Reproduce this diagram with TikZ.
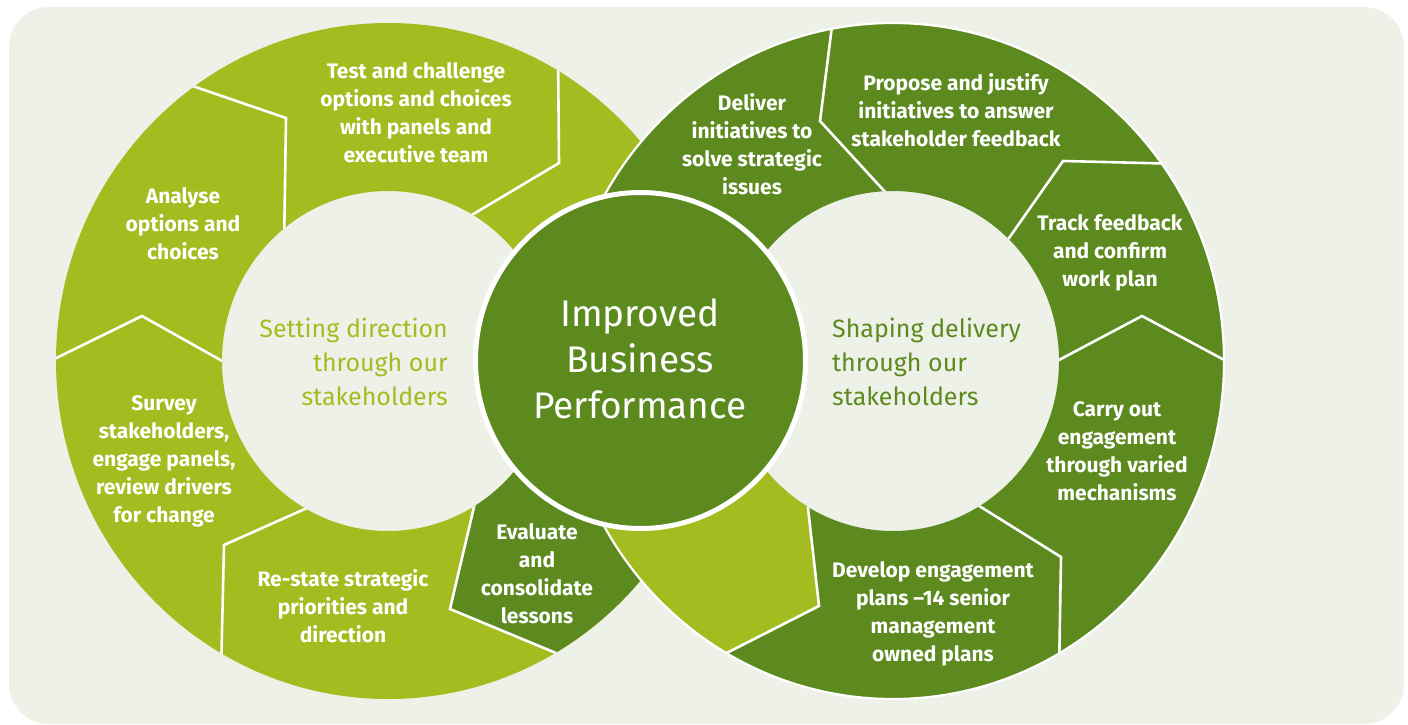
\documentclass[tikz,border=0pt]{standalone}
\usepackage{fontspec}
\setmainfont{Fira Sans}
\newfontfamily\labfont{Fira Sans}
\definecolor{bgc}{HTML}{EEF1E8}
\definecolor{lightg}{HTML}{A4BC1F}
\definecolor{darkg}{HTML}{5C8A1F}
\tikzset{
  sep/.style={draw=white, line width=2.6pt, line join=miter},
  lab/.style={text=white, align=center, font=\labfont\bfseries\fontsize{21}{28}\selectfont, inner sep=0pt},
  inner/.style={align=center, font=\fontsize{25}{34}\selectfont, inner sep=0pt},
  big/.style={text=white, align=center, font=\fontsize{37}{46}\selectfont, inner sep=0pt}
}
\begin{document}
\begin{tikzpicture}[x=1pt,y=-1pt]
\useasboundingbox (0,0) rectangle (1408,725);
\fill[white] (0,0) rectangle (1408,725);
\fill[bgc, rounded corners=40pt] (9,7) rectangle (1404,724);
% ---------- left ring ----------
\fill[lightg, even odd rule] (388,361) ellipse [x radius=332pt, y radius=338pt]
  (388,361) ellipse [x radius=166pt, y radius=170pt];
\begin{scope}[even odd rule]
  \clip (388,361) ellipse [x radius=332pt, y radius=338pt]
    (388,361) ellipse [x radius=166pt, y radius=170pt];
  \fill[darkg] (480,483) -- (450,609) -- (557,653) -- (600,671) -- (800,671) -- (800,361) -- (480,361) -- cycle;
  \draw[sep] (175,80) -- (286,118) -- (284,250);
  \draw[sep] (558,50) -- (559,163) -- (455,225);
  \draw[sep] (40,366) -- (142,316) -- (240,371);
  \draw[sep] (325,500) -- (224,545) -- (221,675);
  \draw[sep] (478,490) -- (450,609) -- (580,663);
\end{scope}
% ---------- right ring ----------
\fill[darkg, even odd rule] (893,361) ellipse [x radius=331pt, y radius=338pt]
  (893,361) ellipse [x radius=166pt, y radius=170pt];
\begin{scope}[even odd rule]
  \clip (893,361) ellipse [x radius=331pt, y radius=338pt]
    (893,361) ellipse [x radius=166pt, y radius=170pt];
  \fill[lightg] (805,480) -- (819,606) -- (726,653) -- (680,676) -- (500,676) -- (500,361) -- (805,361) -- cycle;
  \draw[sep] (834,10) -- (820,121) -- (898,206);
  \draw[sep] (1185,164) -- (1063,161) -- (995,258);
  \draw[sep] (1040,370) -- (1142,316) -- (1243,370);
  \draw[sep] (960,494) -- (1061,557) -- (1059,675);
  \draw[sep] (806,490) -- (819,606) -- (705,664);
\end{scope}
\draw[white, line width=2.2pt] (893,361) ellipse [x radius=331pt, y radius=338pt];
% ---------- centre ----------
\fill[darkg, draw=white, line width=5pt] (640.5,360.5) ellipse [x radius=165pt, y radius=168pt];
% ---------- texts ----------
\node[lab] (test) at (416,113) {Test and challenge\\options and choices\\with panels and\\executive team};
\node[lab] (analyse) at (183,224) {Analyse\\options and\\choices};
\node[lab] (survey) at (164,461) {Survey\\stakeholders,\\engage panels,\\review drivers\\for change};
\node[lab] (restate) at (343,606) {Re-state strategic\\priorities and\\direction};
\node[lab] (evaluate) at (537,574) {Evaluate\\and\\consolidate\\lessons};
\node[inner, text=lightg, align=right, anchor=east] (setting) at (448,362) {Setting direction\\through our\\stakeholders};
\node[lab] (deliver) at (752,144) {Deliver\\initiatives to\\solve strategic\\issues};
\node[lab] (propose) at (956,110) {Propose and justify\\initiatives to answer\\stakeholder feedback};
\node[lab] (track) at (1110,253) {Track feedback\\and confirm\\work plan};
\node[lab] (carry) at (1117,451) {Carry out\\engagement\\through varied\\mechanisms};
\node[lab] (develop) at (933,614) {Develop engagement\\plans –14 senior\\management\\owned plans};
\node[inner, text=darkg, align=left, anchor=west] (shaping) at (832,362) {Shaping delivery\\through our\\stakeholders};
\node[big] (centre) at (640,359) {Improved\\Business\\Performance};
\end{tikzpicture}
\end{document}
